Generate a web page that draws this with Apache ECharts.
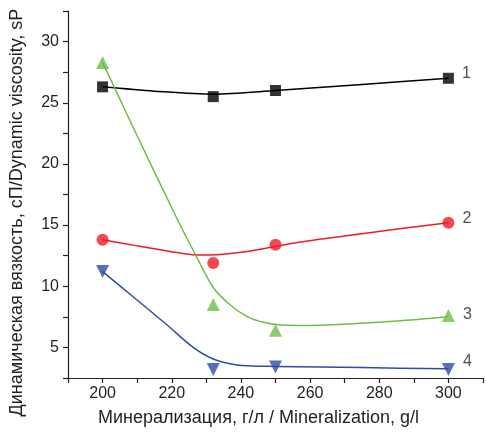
<!DOCTYPE html>
<html>
<head>
<meta charset="utf-8">
<script src="https://cdn.jsdelivr.net/npm/echarts@6/dist/echarts.min.js"></script>
<style>
html,body{margin:0;padding:0;background:#fff;}
#c{width:486px;height:432px;}
</style>
</head>
<body>
<div id="c"></div>
<script>
// measured points
var pointX = [200, 232, 250, 300];
var s1 = [26.3, 25.5, 26.0, 27.0];
var s2 = [13.8, 11.9, 13.4, 15.2];
var s3 = [28.3, 8.5, 6.4, 7.6];
var s4 = [11.2, 3.2, 3.4, 3.2];

// fitted curves
var c1x = [200, 215, 232, 250, 275, 300];
var c1y = [26.3, 25.95, 25.7, 26.0, 26.5, 27.0];
var c2x = [200, 210, 219.5, 227, 234, 244, 256.7, 275, 300];
var c2y = [13.8, 13.3, 12.85, 12.55, 12.6, 12.95, 13.6, 14.3, 15.2];
var c3x = [200, 210, 221.4, 227, 232, 237, 242, 246.5, 251, 257, 270, 285, 300];
var c3y = [28.3, 22.3, 15.6, 12.5, 9.9, 8.45, 7.5, 7.05, 6.85, 6.8, 6.9, 7.15, 7.5];
var c4x = [200, 209, 218.6, 226, 232, 238, 244, 250, 275, 300];
var c4y = [11.2, 9.1, 6.85, 5.05, 4.05, 3.6, 3.47, 3.45, 3.35, 3.25];

var seriesNames = ['1', '2', '3', '4'];
var xTicks = [200, 220, 240, 260, 280, 300];
var yTicks = [5, 10, 15, 20, 25, 30];

var textColor = '#231f20';
var font = 'Liberation Sans, Arial, sans-serif';

function pairs(xs, ys) { return xs.map(function (x, i) { return [x, ys[i]]; }); }

function pointSeries(ys, color, symbol, size, name, labelOffset) {
  var last = ys.length - 1;
  return {
    type: 'scatter',
    symbol: symbol,
    symbolSize: size,
    itemStyle: { color: color },
    z: 3,
    data: pointX.map(function (x, i) {
      var d = { value: [x, ys[i]] };
      if (i === last) {
        d.label = {
          show: true, position: 'right', distance: 8, offset: labelOffset,
          formatter: name, color: textColor, fontSize: 16, fontFamily: font
        };
      }
      return d;
    })
  };
}
function curveSeries(xs, ys, color) {
  return {
    type: 'line', smooth: 0.3, showSymbol: false, symbol: 'none',
    lineStyle: { color: color, width: 1.5 }, z: 2,
    data: pairs(xs, ys)
  };
}

var chart = echarts.init(document.getElementById('c'), null, { renderer: 'canvas' });
chart.setOption({
  animation: false,
  backgroundColor: '#fff',
  grid: { left: 68, right: 2, top: 11, bottom: 49.5 },
  xAxis: {
    type: 'value', min: 190, max: 310, interval: 10,
    name: 'Минерализация, г/л / Mineralization, g/l',
    nameLocation: 'middle', nameGap: 31,
    nameTextStyle: { color: textColor, fontSize: 18, fontFamily: font, padding: [0, 34, 0, 0] },
    axisLine: { show: true, lineStyle: { color: textColor, width: 1.2 } },
    axisTick: { show: true, length: 5, lineStyle: { color: textColor, width: 1.2 } },
    axisLabel: {
      color: textColor, fontSize: 16, fontFamily: font, margin: 8,
      formatter: function (v) { return xTicks.indexOf(v) >= 0 ? String(v) : ''; }
    },
    splitLine: { show: false }
  },
  yAxis: {
    type: 'value', min: 2.5, max: 32.5, interval: 2.5,
    name: 'Динамическая вязкость, сП/Dynamic viscosity, sP',
    nameLocation: 'middle', nameGap: 42, nameRotate: 90,
    nameTextStyle: { color: textColor, fontSize: 18, fontFamily: font, padding: [0, 36, 0, 0] },
    axisLine: { show: true, lineStyle: { color: textColor, width: 1.2 } },
    axisTick: { show: true, length: 5, lineStyle: { color: textColor, width: 1.2 } },
    axisLabel: {
      color: textColor, fontSize: 16, fontFamily: font, margin: 9,
      formatter: function (v) { return yTicks.indexOf(v) >= 0 ? String(v) : ''; }
    },
    splitLine: { show: false }
  },
  series: [
    curveSeries(c1x, c1y, '#000000'),
    curveSeries(c2x, c2y, '#ee1c25'),
    curveSeries(c3x, c3y, '#6dbe45'),
    curveSeries(c4x, c4y, '#2e4ea2'),
    pointSeries(s1, '#000000', 'rect', 11, seriesNames[0], [0, -5]),
    pointSeries(s2, '#ee1c25', 'circle', 12, seriesNames[1], [0, -4]),
    pointSeries(s3, '#6dbe45', 'triangle', 13, seriesNames[2], [0, -1]),
    pointSeries(s4, '#2e4ea2', 'path://M0,0 L10,0 L5,9 Z', 13, seriesNames[3], [0, -8])
  ]
});
</script>
</body>
</html>
